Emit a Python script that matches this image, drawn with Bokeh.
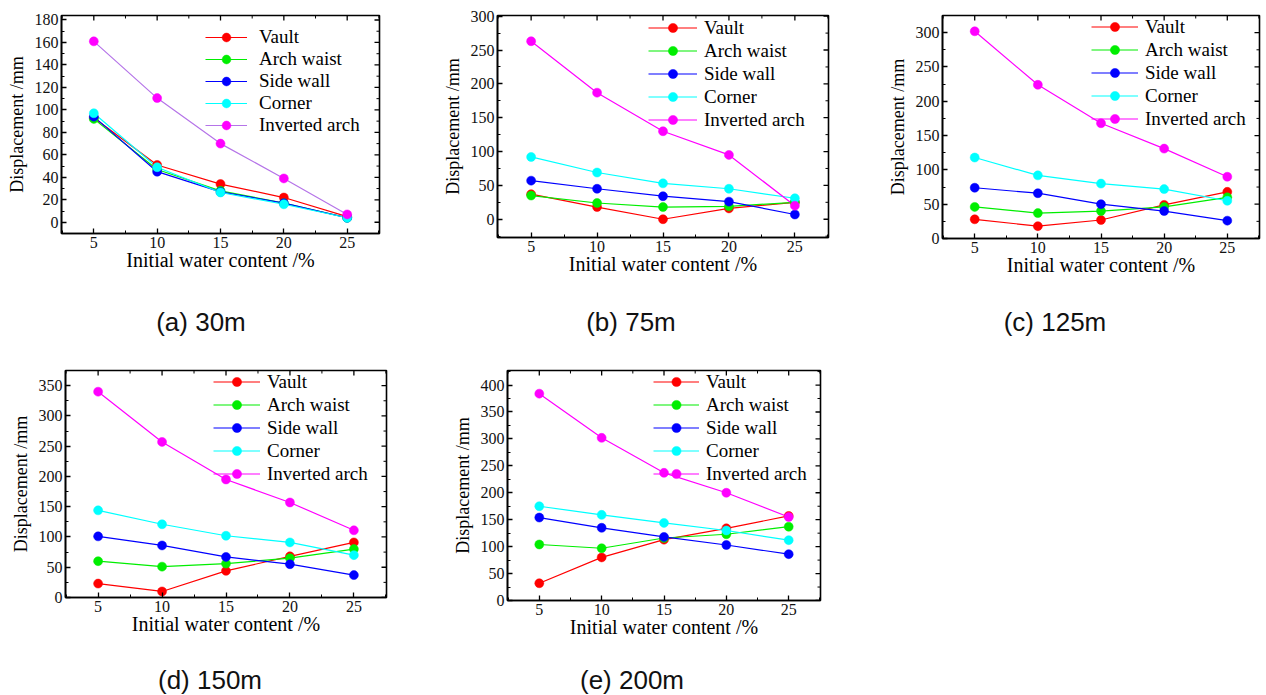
import math
import numpy as np
from bokeh.plotting import figure
from bokeh.layouts import column, row
from bokeh.models import Range1d, SingleIntervalTicker, Div
from bokeh.embed import file_html
from bokeh.resources import INLINE

# ---------------- data ----------------
water_content = [5, 10, 15, 20, 25]
series_names = ["Vault", "Arch waist", "Side wall", "Corner", "Inverted arch"]
captions = ["(a) 30m", "(b) 75m", "(c) 125m", "(d) 150m", "(e) 200m"]

a_vault = [93, 51, 34, 22, 5]
a_arch_waist = [92, 47, 28, 17, 4]
a_side_wall = [94, 45, 27, 17, 4]
a_corner = [97, 49, 26.5, 16, 4]
a_inverted_arch = [161, 110.5, 70, 39, 7]

b_vault = [37, 18, 0, 16, 25]
b_arch_waist = [35, 24, 18, 19, 25]
b_side_wall = [57, 45, 34, 26, 7]
b_corner = [92, 69, 53, 45, 31]
b_inverted_arch = [263, 187, 130, 95, 20]

c_vault = [28, 18, 27, 49, 68]
c_arch_waist = [46, 37, 40, 46, 60]
c_side_wall = [74, 66, 50, 40, 26]
c_corner = [118, 92, 80, 72, 55]
c_inverted_arch = [302, 224, 168, 131, 90]

d_vault = [23, 10, 44, 68, 91]
d_arch_waist = [60, 51, 56, 65, 80]
d_side_wall = [101, 86, 67, 55, 37]
d_corner = [144, 121, 102, 91, 70]
d_inverted_arch = [340, 257, 195, 157, 111]

e_vault = [32, 80, 113, 134, 157]
e_arch_waist = [104, 97, 116, 123, 137]
e_side_wall = [154, 135, 118, 103, 86]
e_corner = [175, 159, 144, 130, 112]
e_inverted_arch = [384, 302, 237, 200, 155]

panel_data = [
    [a_vault, a_arch_waist, a_side_wall, a_corner, a_inverted_arch],
    [b_vault, b_arch_waist, b_side_wall, b_corner, b_inverted_arch],
    [c_vault, c_arch_waist, c_side_wall, c_corner, c_inverted_arch],
    [d_vault, d_arch_waist, d_side_wall, d_corner, d_inverted_arch],
    [e_vault, e_arch_waist, e_side_wall, e_corner, e_inverted_arch],
]

# ---------------- style ----------------
marker_colors = ["#ff0000", "#00ee00", "#0000ff", "#00ffff", "#ff00ff"]
SERIF = "Liberation Serif"
SANS = "Liberation Sans"
X_LO, X_HI = 2.45, 27.55

# per panel layout: (mbl, frame_w, mbr, mbt, frame_h, mbb, y_lo, y_hi, y_step,
#                    legend_x, legend_top_offset, glyph_w, standoff, pitch, inv_line_color)
layouts = [
    (61, 318, 51, 15, 218, 57, -10, 184, 20, 144, 11, 42, 12, 22, "#b574e8"),
    (67, 331, 32, 15, 222, 53, -27, 301, 50, 151, 1, 49, 7, 23, "#ff00ff"),
    (82, 317, 6, 11, 223, 56, 0, 325, 50, 149, 0, 47, 7, 23, "#ff00ff"),
    (65, 321, 54, 15, 227, 70, 0, 375, 50, 148, 0, 47, 7, 23, "#ff00ff"),
    (67, 313, 20, 16, 230, 66, 0, 427, 50, 146, 0, 46, 7, 23, "#ff00ff"),
]


def style_axis(ax):
    ax.axis_line_color = "black"
    ax.axis_line_width = 1.6
    ax.major_tick_in = 5
    ax.major_tick_out = 0
    ax.minor_tick_in = 3
    ax.minor_tick_out = 0
    ax.major_tick_line_color = "black"
    ax.minor_tick_line_color = "black"
    ax.major_tick_line_width = 1.3
    ax.minor_tick_line_width = 1.0
    ax.major_label_text_font = SERIF
    ax.major_label_text_font_size = "16px"
    ax.major_label_text_color = "#111111"
    ax.major_label_standoff = 3
    ax.axis_label_text_font = SERIF
    ax.axis_label_text_font_style = "normal"
    ax.axis_label_text_color = "#000000"


def make_panel(idx):
    (mbl, fw, mbr, mbt, fh, mbb, ylo, yhi, ystep,
     lx, ltop, gw, lso, pitch, inv_color) = layouts[idx]
    p = figure(frame_width=fw, frame_height=fh,
               min_border_left=mbl, min_border_right=mbr,
               min_border_top=mbt, min_border_bottom=mbb,
               x_range=Range1d(X_LO, X_HI), y_range=Range1d(ylo, yhi),
               output_backend="svg", toolbar_location=None,
               background_fill_color="white", border_fill_color="white")
    p.grid.visible = False
    p.outline_line_color = "black"
    p.outline_line_width = 1.6

    p.xaxis.ticker = SingleIntervalTicker(interval=5, num_minor_ticks=2)
    p.yaxis.ticker = SingleIntervalTicker(interval=ystep, num_minor_ticks=2)
    p.xaxis.axis_label = "Initial water content /%"
    p.yaxis.axis_label = "Displacement /mm"
    for ax in p.xaxis + p.yaxis:
        style_axis(ax)
    p.xaxis.axis_label_text_font_size = "20px"
    p.yaxis.axis_label_text_font_size = "18px"
    p.xaxis.axis_label_standoff = -2
    p.yaxis.axis_label_standoff = 5

    # mirrored inward ticks on top and right frame edges (clipped dash markers)
    top_major = np.arange(5, 25.01, 5)
    top_minor = np.arange(2.5, 27.51, 5)
    p.scatter(top_major, [yhi] * len(top_major), marker="dash", angle=math.pi / 2,
              size=10, line_color="black", line_width=1.3)
    p.scatter(top_minor, [yhi] * len(top_minor), marker="dash", angle=math.pi / 2,
              size=6, line_color="black", line_width=1.0)
    start = math.ceil(ylo / ystep) * ystep
    r_major = np.arange(start, yhi + 0.01, ystep)
    r_minor = np.arange(start - ystep / 2, yhi + 0.01, ystep)
    r_minor = r_minor[r_minor > ylo]
    p.scatter([X_HI] * len(r_major), r_major, marker="dash",
              size=10, line_color="black", line_width=1.3)
    p.scatter([X_HI] * len(r_minor), r_minor, marker="dash",
              size=6, line_color="black", line_width=1.0)

    vals = panel_data[idx]
    for k, name in enumerate(series_names):
        lc = inv_color if k == 4 else marker_colors[k]
        p.line(water_content, vals[k], line_color=lc, line_width=1.2,
               legend_label=name)
    for k, name in enumerate(series_names):
        p.scatter(water_content, vals[k], marker="circle", size=9,
                  fill_color=marker_colors[k], line_color=marker_colors[k],
                  line_width=0.5, legend_label=name)

    lg = p.legend[0]
    lg.location = (lx, fh - ltop - 5 * pitch)
    lg.padding = 0
    lg.margin = 0
    lg.spacing = 0
    lg.glyph_width = gw
    lg.glyph_height = pitch
    lg.label_height = pitch
    lg.label_standoff = lso
    lg.label_text_font = SERIF
    lg.label_text_font_size = "19px"
    lg.label_text_color = "#000000"
    lg.border_line_color = None
    lg.background_fill_alpha = 0
    return p


def caption(text, width, height):
    return Div(text=text, width=width, height=height,
               styles={"text-align": "center", "font-family": SANS + ", Arial, sans-serif",
                       "font-size": "26px", "line-height": "%dpx" % height,
                       "color": "#111111", "margin": "0", "padding": "0"})


figs = [make_panel(i) for i in range(5)]

row1 = row(figs[0], figs[1], figs[2], spacing=0)
cap1 = row(caption(captions[0], 402, 64), caption(captions[1], 458, 64),
           caption(captions[2], 390, 64), spacing=0)
row2 = row(figs[3], figs[4], spacing=0)
cap2 = row(caption(captions[3], 420, 29), caption(captions[4], 424, 29), spacing=0)

page = column(row1, cap1, row2, cap2, spacing=0)

open("out.html", "w").write(file_html(page, INLINE))
